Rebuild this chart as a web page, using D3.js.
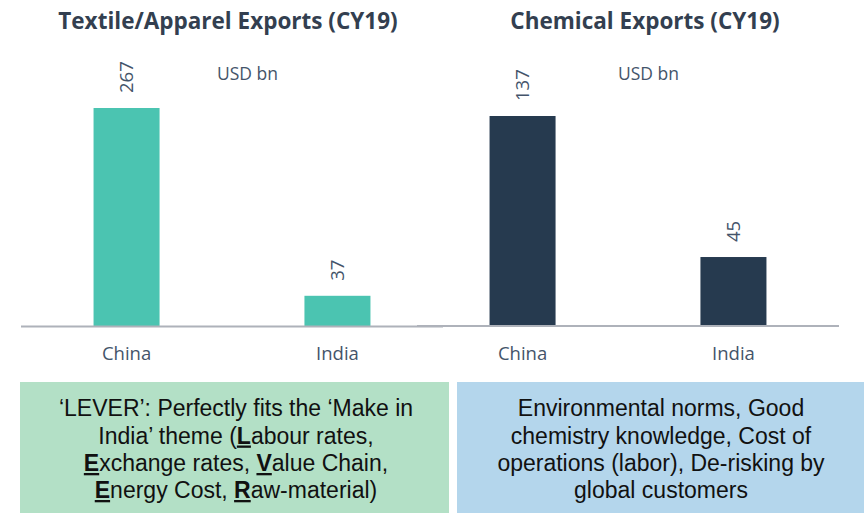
<!DOCTYPE html>
<html>
<head>
<meta charset="utf-8">
<script src="https://cdn.jsdelivr.net/npm/d3@7"></script>
<style>
  body { margin: 0; background: #fff; }
</style>
</head>
<body>
<div id="chart"></div>
<script>
let countries = ['China', 'India']
let textileValues = [267, 37]
let chemicalValues = [137, 45]
let titles = ['Textile/Apparel Exports (CY19)', 'Chemical Exports (CY19)']
let unitLabel = 'USD bn'

let greenLines = [
  [['‘LEVER’: Perfectly fits the ‘Make in', false]],
  [['India’ theme (', false], ['L', true], ['abour rates,', false]],
  [['E', true], ['xchange rates, ', false], ['V', true], ['alue Chain,', false]],
  [['E', true], ['nergy Cost, ', false], ['R', true], ['aw-material)', false]]
]
let blueLines = [
  'Environmental norms, Good',
  'chemistry knowledge, Cost of',
  'operations (labor), De-risking by',
  'global customers'
]

let width = 864
let height = 513

let svg = d3
  .select('#chart')
  .append('svg')
  .attr('width', width)
  .attr('height', height)

let panels = [
  { title: titles[0], values: textileValues, color: '#4bc4b1', x0: 21, x1: 443, top: 108, titleX: 228, unitX: 217, axisY: 326.5 },
  { title: titles[1], values: chemicalValues, color: '#263a4f', x0: 417, x1: 839, top: 116, titleX: 645, unitX: 618, axisY: 326 }
]

let baseY = 326

panels.forEach(p => {
  let g = svg.append('g')

  let xScale = d3
    .scaleBand()
    .domain(countries)
    .range([p.x0, p.x1])
    .paddingInner(0.687)
    .paddingOuter(0.344)

  let yScale = d3
    .scaleLinear()
    .domain([0, d3.max(p.values)])
    .range([baseY, p.top])

  g.append('text')
    .text(p.title)
    .attr('x', p.titleX)
    .attr('y', 29)
    .attr('text-anchor', 'middle')
    .attr('font-family', 'Open Sans')
    .attr('font-weight', 'bold')
    .attr('font-size', 22.5)
    .attr('fill', '#333f50')

  g.append('text')
    .text(unitLabel)
    .attr('x', p.unitX)
    .attr('y', 80)
    .attr('font-family', 'Open Sans')
    .attr('font-size', 17.5)
    .attr('fill', '#44546a')

  g.selectAll('.bar')
    .data(p.values)
    .enter()
    .append('rect')
    .attr('class', 'bar')
    .attr('x', (d, i) => xScale(countries[i]))
    .attr('width', xScale.bandwidth())
    .attr('y', d => yScale(d))
    .attr('height', d => baseY - yScale(d))
    .attr('fill', p.color)

  g.append('line')
    .attr('x1', p.x0)
    .attr('x2', p.x1)
    .attr('y1', p.axisY)
    .attr('y2', p.axisY)
    .attr('stroke', '#aeb2ba')
    .attr('stroke-width', 2)

  g.selectAll('.val')
    .data(p.values)
    .enter()
    .append('text')
    .attr('class', 'val')
    .text(d => d)
    .attr('transform', (d, i) => {
      let cx = xScale(countries[i]) + xScale.bandwidth() / 2
      return `translate(${cx},${yScale(d) - 15}) rotate(-90)`
    })
    .attr('dy', '0.35em')
    .attr('font-family', 'Open Sans')
    .attr('font-size', 18.5)
    .attr('fill', '#44546a')

  g.selectAll('.cat')
    .data(countries)
    .enter()
    .append('text')
    .attr('class', 'cat')
    .text(d => d)
    .attr('x', d => xScale(d) + xScale.bandwidth() / 2)
    .attr('y', 360)
    .attr('text-anchor', 'middle')
    .attr('font-family', 'Open Sans')
    .attr('font-size', 18.5)
    .attr('fill', '#44546a')
})

// note boxes
svg.append('rect')
  .attr('x', 20).attr('y', 382).attr('width', 429).attr('height', 131)
  .attr('fill', '#b3e0c6')
svg.append('rect')
  .attr('x', 457).attr('y', 382).attr('width', 407).attr('height', 131)
  .attr('fill', '#b4d6ec')

let lineY = [416, 443.5, 471, 498]

let greenText = svg.append('g')
greenLines.forEach((parts, i) => {
  let t = greenText.append('text')
    .attr('x', 236)
    .attr('y', lineY[i])
    .attr('text-anchor', 'middle')
    .attr('font-family', 'Liberation Sans, Arial')
    .attr('font-size', 23)
    .attr('fill', '#111')
  parts.forEach(([s, strong]) => {
    t.append('tspan')
      .text(s)
      .attr('font-weight', strong ? 'bold' : null)
      .attr('text-decoration', strong ? 'underline' : null)
  })
})

svg.append('g')
  .selectAll('text')
  .data(blueLines)
  .enter()
  .append('text')
  .text(d => d)
  .attr('x', 661)
  .attr('y', (d, i) => lineY[i])
  .attr('text-anchor', 'middle')
  .attr('font-family', 'Liberation Sans, Arial')
  .attr('font-size', 23)
  .attr('fill', '#111')
</script>
</body>
</html>
